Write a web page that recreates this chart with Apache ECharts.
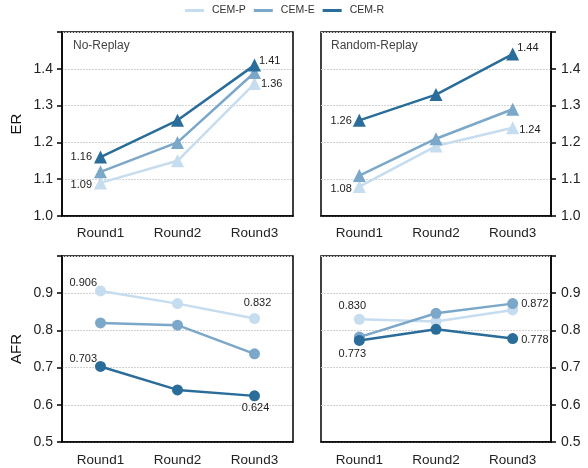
<!DOCTYPE html>
<html><head><meta charset="utf-8">
<script src="https://cdn.jsdelivr.net/npm/echarts@6/dist/echarts.min.js"></script>
<style>html,body{margin:0;padding:0;background:#fff}#c{width:588px;height:468px}</style>
</head><body><div id="c"></div>
<script>
const categories = ['Round1','Round2','Round3'];
const seriesNames = ['CEM-P','CEM-E','CEM-R'];
const erNoReplay = { 'CEM-P':[1.09,1.15,1.36], 'CEM-E':[1.12,1.20,1.39], 'CEM-R':[1.16,1.26,1.41] };
const erRandom   = { 'CEM-P':[1.08,1.19,1.24], 'CEM-E':[1.11,1.21,1.29], 'CEM-R':[1.26,1.33,1.44] };
const afrNoReplay = { 'CEM-P':[0.906,0.872,0.832], 'CEM-E':[0.820,0.814,0.737], 'CEM-R':[0.703,0.640,0.624] };
const afrRandom   = { 'CEM-P':[0.830,0.824,0.855], 'CEM-E':[0.782,0.846,0.872], 'CEM-R':[0.773,0.803,0.778] };
const erTicks = [1.0,1.1,1.2,1.3,1.4];
const afrTicks = [0.5,0.6,0.7,0.8,0.9];
const panelTitles = ['No-Replay','Random-Replay'];

const colors = { 'CEM-P':'#c6dcef', 'CEM-E':'#7ba7c9', 'CEM-R':'#2b6d9a' };
const FONT = 'Liberation Sans, Arial, sans-serif';

const labelSpec = {
  0: { 'CEM-R': {0:{position:'left',offset:[3,0],d:2}, 2:{position:'right',offset:[-7,-4],d:2}},
       'CEM-P': {0:{position:'left',offset:[3,2],d:2}, 2:{position:'right',offset:[-5,0],d:2}} },
  1: { 'CEM-R': {0:{position:'left',offset:[4,1],d:2}, 2:{position:'right',offset:[-7,-6],d:2}},
       'CEM-P': {0:{position:'left',offset:[4,2],d:2}, 2:{position:'right',offset:[-5,2],d:2}} },
  2: { 'CEM-P': {0:{position:'left',offset:[7,-8],d:3}, 2:{position:'top',offset:[3,0],d:3}},
       'CEM-R': {0:{position:'left',offset:[7,-8],d:3}, 2:{position:'bottom',offset:[1,-4],d:3}} },
  3: { 'CEM-P': {0:{position:'top',offset:[-7,3],d:3}},
       'CEM-E': {2:{position:'right',offset:[-2,0],d:3}},
       'CEM-R': {0:{position:'bottom',offset:[-7,-2],d:3}, 2:{position:'right',offset:[-2,1],d:3}} }
};

const grids = [
  {left:62, top:32, width:231, height:184},
  {left:321, top:32, width:230, height:184},
  {left:62, top:256, width:231, height:186},
  {left:321, top:256, width:230, height:186}
].map(g => Object.assign(g, {show:true, borderColor:'#000', borderWidth:1.5, containLabel:false}));

const xAxes = grids.map((g,i) => ({
  type:'category', gridIndex:i, data:categories, boundaryGap:true,
  axisLine:{lineStyle:{color:'#000', width:1.5}},
  axisTick:{alignWithLabel:true, length:5, lineStyle:{color:'#000', width:1.5}},
  axisLabel:{color:'#222', fontSize:13.5, fontFamily:FONT, margin: i < 2 ? 10 : 11}
}));

function yAxis(i, min, name, right){
  return {
    type:'value', gridIndex:i, min:min, max:min+0.5, interval:0.1,
    position: right ? 'right' : 'left',
    name: name, nameLocation:'middle', nameGap:38, nameRotate:90,
    nameTextStyle:{fontSize:15, color:'#111', fontFamily:FONT},
    axisLine:{show:true, lineStyle:{color:'#000', width:1.5}},
    axisTick:{show:true, length:5, lineStyle:{color:'#000', width:1.5}},
    axisLabel:{color:'#222', fontSize:14, fontFamily:FONT, margin: right ? 10 : 9,
      formatter: v => (v > min + 0.45 ? '' : v.toFixed(1))},
    splitLine:{show:true, lineStyle:{color:'#d2d2d2', type:[2,1], width:1}}
  };
}
const yAxes = [ yAxis(0,1.0,'ER',false), yAxis(1,1.0,'',true), yAxis(2,0.5,'AFR',false), yAxis(3,0.5,'',true) ];

const panels = [erNoReplay, erRandom, afrNoReplay, afrRandom];
const series = [];
panels.forEach((panel, pi) => {
  seriesNames.forEach(name => {
    const spec = (labelSpec[pi] || {})[name] || {};
    series.push({
      name: name, type:'line', xAxisIndex:pi, yAxisIndex:pi,
      symbol: pi < 2 ? 'triangle' : 'circle',
      symbolSize: pi < 2 ? 13 : 11,
      color: colors[name],
      lineStyle:{width:2.5, color:colors[name]},
      itemStyle:{color:colors[name]},
      emphasis:{disabled:true},
      z: 2 + seriesNames.indexOf(name),
      data: panel[name].map((v, k) => {
        const s = spec[k];
        if (!s) return v;
        return { value:v, label:{show:true, position:s.position, offset:s.offset,
          formatter: () => v.toFixed(s.d), fontSize:11, color:'#222', fontFamily:FONT} };
      })
    });
  });
});

const chart = echarts.init(document.getElementById('c'));
chart.setOption({
  animation:false,
  backgroundColor:'#fff',
  legend:{ data:seriesNames, top:5, left:185, padding:0, itemWidth:19, itemHeight:3, itemGap:8,
    icon:'rect',
    textStyle:{fontSize:10.5, color:'#333', fontFamily:FONT, padding:[0,0,0,3]} },
  graphic:[
    {type:'text', left:73, top:40, style:{text:panelTitles[0], fontSize:12, fill:'#444', fontFamily:FONT}},
    {type:'text', left:331, top:40, style:{text:panelTitles[1], fontSize:12, fill:'#444', fontFamily:FONT}}
  ],
  grid: grids, xAxis: xAxes, yAxis: yAxes, series: series
});
</script></body></html>
